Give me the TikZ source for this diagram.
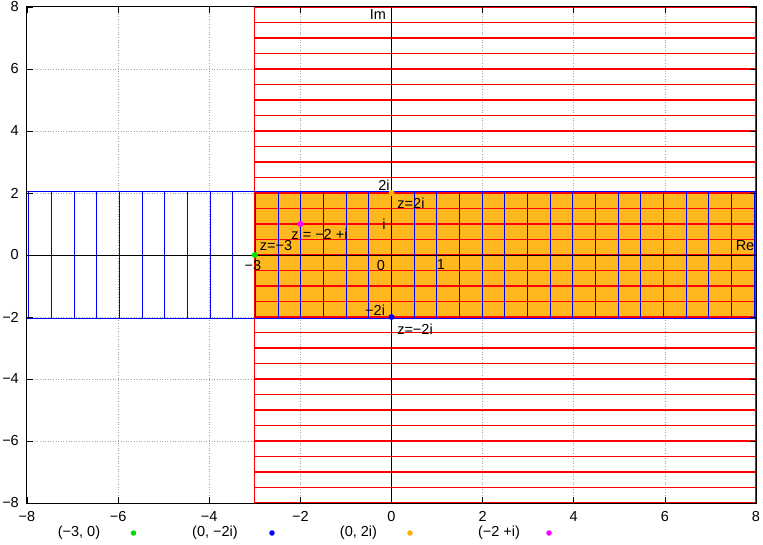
\documentclass[tikz,border=0pt]{standalone}
\usepackage{fontspec}
\setmainfont{Liberation Sans}
\definecolor{fillor}{HTML}{FFB81E}
\definecolor{pblue}{HTML}{0000FF}
\definecolor{pred}{HTML}{FF0000}
\definecolor{pgreen}{HTML}{00E000}
\definecolor{pmag}{HTML}{FF00FF}
\definecolor{porange}{HTML}{FFB000}
\begin{document}
\begin{tikzpicture}[x=45.5625pt,y=31pt,
  font=\fontsize{14.5}{16}\selectfont,
  gridline/.style={gray!70,dotted,line width=0.6pt},
  blueline/.style={pblue,line width=1.25pt},
  redline/.style={pred,line width=1.35pt},
  axisline/.style={black,line width=0.8pt},
  tickline/.style={black,line width=0.6pt},
  lbl/.style={inner sep=0pt},
  pt/.style={circle,inner sep=0pt,minimum size=6pt},
  ldot/.style={circle,inner sep=0pt,minimum size=5.5pt}]
\useasboundingbox (-8.5926,-9.3548) rectangle (8.1536,8.2258);
% orange region
\fill[fillor] (-3,-2) rectangle (8,2);
% grid
\foreach \v in {-6,-4,...,6} {
  \draw[gridline] (\v,-8) -- (\v,8);
  \draw[gridline] (-8,\v) -- (8,\v);
}
% red lines
\foreach \i in {0,...,32} {
  \draw[redline] (-3,{-8+0.5*\i}) -- (8,{-8+0.5*\i});
}
\draw[redline] (-3,-8) -- (-3,8);
\draw[redline] (8,-8) -- (8,8);
% blue lines
\foreach \i in {0,...,32} {
  \draw[blueline] ({-7.96+0.4975*\i},-2.06) -- ({-7.96+0.4975*\i},2.06);
}
\draw[blueline] (-8,2.06) -- (8,2.06);
\draw[blueline] (-8,-2.06) -- (8,-2.06);
% axes
\draw[axisline] (-8,0) -- (8,0);
\draw[black,line width=1.1pt] (0,-8) -- (0,8);
% ticks
\foreach \v in {-8,-6,...,8} {
  \draw[tickline] (\v,-8) -- ++(0,0.2);
  \draw[tickline] (\v,8) -- ++(0,-0.2);
  \draw[tickline] (-8,\v) -- ++(0.14,0);
  \draw[tickline] (8,\v) -- ++(-0.14,0);
}
% frame
\draw[black,line width=1pt] (-8,-8) rectangle (8,8);
% tick labels
\foreach \v/\t in {-8/−8,-6/−6,-4/−4,-2/−2,0/0,2/2,4/4,6/6,8/8} {
  \node[lbl,anchor=east] (yl\v) at ([xshift=-8pt]-8,\v) {\t};
  \node[lbl,anchor=north] (xl\v) at ([yshift=-8pt]\v,-8) {\t};
}
% points
\node[pt,fill=pgreen] (pA) at (-3,0) {};
\node[pt,fill=pblue] (pB) at (0,-2) {};
\node[pt,fill=porange] (pC) at (0,2) {};
\node[pt,fill=pmag] (pD) at (-2,1) {};
% labels
\node[lbl] (im) at (-0.296,7.742) {Im};
\node[lbl] (re) at (7.759,0.29) {Re};
\node[lbl] (l2i) at (-0.165,2.24) {2i};
\node[lbl] (lz2i) at (0.428,1.677) {z=2i};
\node[lbl] (li) at (-0.165,0.98) {i};
\node[lbl] (l0) at (-0.23,-0.323) {0};
\node[lbl] (l1) at (1.086,-0.323) {1};
\node[lbl] (lm2i) at (-0.36,-1.774) {−2i};
\node[lbl] (lzm2i) at (0.516,-2.387) {z=−2i};
\node[lbl] (lm3) at (-3.04,-0.355) {−3};
\node[lbl] (lzm3) at (-2.535,0.29) {z=−3};
\node[lbl] (lzD) at (-1.58,0.67) {z = −2 +i};
% legend
\node[lbl] (leg1) at (-6.859,-8.968) {(−3, 0)};
\node[ldot,fill=pgreen] (ld1) at (-5.663,-8.968) {};
\node[lbl] (leg2) at (-3.874,-8.968) {(0, −2i)};
\node[ldot,fill=pblue] (ld2) at (-2.623,-8.968) {};
\node[lbl] (leg3) at (-0.724,-8.968) {(0, 2i)};
\node[ldot,fill=porange] (ld3) at (0.406,-8.968) {};
\node[lbl] (leg4) at (2.359,-8.968) {(−2 +i)};
\node[ldot,fill=pmag] (ld4) at (3.457,-8.968) {};
\end{tikzpicture}
\end{document}
